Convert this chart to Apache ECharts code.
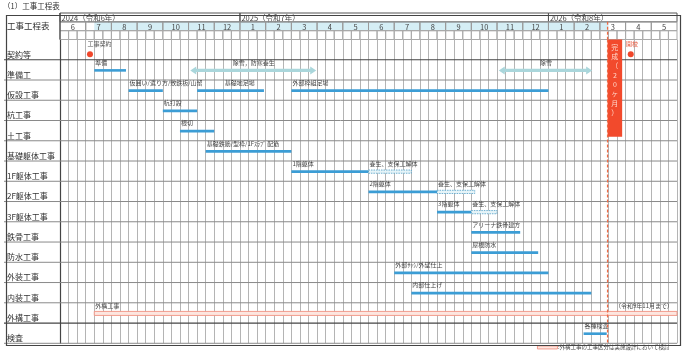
<!DOCTYPE html>
<html>
<head>
<meta charset="utf-8">
<script src="https://cdn.jsdelivr.net/npm/echarts@6/dist/echarts.min.js"></script>
<style>
  html, body { margin: 0; padding: 0; background: #fff; }
  #chart { width: 684px; height: 355px; }
</style>
</head>
<body>
<div id="chart"></div>
<script>
const FONT = '"Noto Sans CJK JP", sans-serif'

// 行（工種）
const rows = ['契約等', '準備工', '仮設工事', '杭工事', '土工事', '基礎躯体工事', '1F躯体工事', '2F躯体工事',
  '3F躯体工事', '鉄骨工事', '防水工事', '外装工事', '内装工事', '外構工事', '検査']

// 時間軸は旬（1か月=3）単位、0 = 2024年6月上旬
const months = ['6', '7', '8', '9', '10', '11', '12', '1', '2', '3', '4', '5', '6', '7', '8', '9', '10', '11', '12',
  '1', '2', '3', '4', '5']
const yearLabels = ['2024（令和6年）', '2025（令和7年）', '2026（令和8年）']
const yearFrom = [0, 7, 19]
const yearTo = [7, 19, 24]
const shadeFrom = 4
const shadeTo = 64

// 工程
const taskNames = ['準備', '除雪，防寒養生', '除雪', '仮囲い/遣り方/敷鉄板/山留', '基礎地足場', '外部枠組足場',
  '杭打設', '根切', '基礎鉄筋/型枠/1Fｽﾗﾌﾞ 配筋', '1階躯体', '養生、支保工解体', '2階躯体', '養生、支保工解体',
  '3階躯体', '養生、支保工解体', 'アリーナ鉄骨建方', '屋根防水', '外部ｻｯｼ/外壁仕上', '内部仕上げ', '外構工事', '各種検査']
const taskRow = [1, 1, 1, 2, 2, 2, 3, 4, 5, 6, 6, 7, 7, 8, 8, 9, 10, 11, 12, 13, 14]
const taskStart = [4, 15.2, 51.2, 8, 16, 27, 12, 14, 17, 27, 36, 36, 44, 44, 48, 48, 48, 39, 41, 4, 61.1]
const taskEnd = [7.7, 29.9, 62.1, 12, 23.8, 57, 16, 18, 27, 36, 41, 44, 48.4, 48, 51, 53.7, 55.8, 57, 62, 72, 63.8]
const taskLabelAt = [4, 22.6, 56.7, 8, 19.1, 27, 12, 14, 17, 27, 36, 36, 44, 44, 48, 48, 48, 39, 41, 4, 61.1]
const taskType = ['bar', 'arrow', 'arrow', 'bar', 'bar', 'bar', 'bar', 'bar', 'bar', 'bar', 'dash', 'bar', 'dash',
  'bar', 'dash', 'bar', 'bar', 'bar', 'bar', 'outline', 'bar']

// マイルストーン
const msNames = ['工事契約', '開校']
const msRow = [0, 0]
const msAt = [3.5, 66.6]
const msLabelAt = [3.2, 66.05]
const msLabelColor = ['#555', '#e8553a']

// 完成
const completionText = '完成（20ヶ月）'
const completionStart = 63.9
const completionEnd = 65.6
const completionRows = 4.8
const deadline = 63.9

const noteText = '（令和9年11月まで）'

const chart = echarts.init(document.getElementById('chart'))

function rowH(api) {
  return api.size([0, 1])[1]
}

function renderTask(params, api) {
  const i = params.dataIndex
  const a = api.coord([api.value(0), api.value(1)])
  const b = api.coord([api.value(2), api.value(1)])
  const y = a[1] + 0.5
  const type = taskType[i]
  const lx = api.coord([taskLabelAt[i], api.value(1)])[0]
  let mark
  if (type === 'bar') {
    mark = { type: 'rect', shape: { x: a[0], y: y - 1.3, width: b[0] - a[0], height: 2.6 }, style: { fill: '#3c9dd5' } }
  } else if (type === 'dash') {
    mark = { type: 'rect', shape: { x: a[0], y: y - 1.6, width: b[0] - a[0], height: 3.2 },
      style: { fill: '#e6f4f8', stroke: '#4d9dc6', lineWidth: 0.8, lineDash: [1.5, 1] } }
  } else if (type === 'outline') {
    mark = { type: 'rect', shape: { x: a[0], y: y - 2, width: b[0] - a[0], height: 4 },
      style: { fill: '#fde6e0', stroke: '#f09282', lineWidth: 0.9 } }
  } else {
    const hl = 6, hw = 4, sw = 1.6, x0 = a[0], x1 = b[0]
    mark = { type: 'polygon', shape: { points: [[x0, y], [x0 + hl, y - hw], [x0 + hl, y - sw], [x1 - hl, y - sw],
      [x1 - hl, y - hw], [x1, y], [x1 - hl, y + hw], [x1 - hl, y + sw], [x0 + hl, y + sw], [x0 + hl, y + hw]] },
      style: { fill: '#aad6db' } }
  }
  const label = { type: 'text', style: { x: lx + (type === 'arrow' ? 0 : 1), y: y - 8, text: taskNames[i],
    fill: '#444', font: '6px ' + FONT, align: type === 'arrow' ? 'center' : 'left', verticalAlign: 'middle' } }
  return { type: 'group', children: [mark, label] }
}

chart.setOption({
  animation: false,
  backgroundColor: '#fff',
  grid: [
    { left: 60, right: 7, top: 39.5, bottom: 11.7 },
    { left: 60, right: 7, top: 13, height: 26.5 }
  ],
  xAxis: [
    {
      type: 'value', min: 0, max: 72, interval: 1, gridIndex: 0,
      axisLine: { show: false }, axisTick: { show: false }, axisLabel: { show: false },
      splitLine: { show: true, lineStyle: { color: '#b4b4b4', width: 1 } }
    },
    {
      type: 'value', min: 0, max: 72, interval: 1, gridIndex: 1,
      axisLine: { show: false }, axisTick: { show: false }, axisLabel: { show: false }, splitLine: { show: false }
    }
  ],
  yAxis: [
    {
      type: 'category', data: rows, inverse: true, gridIndex: 0,
      axisLine: { show: true, lineStyle: { color: '#444', width: 1.2 } },
      axisTick: { show: false },
      splitLine: { show: false },
      axisLabel: { align: 'left', margin: 53, verticalAlign: 'top', padding: [1, 0, 0, 0],
        fontSize: 8, color: '#333', fontFamily: FONT }
    },
    {
      type: 'value', min: 0, max: 3, inverse: true, gridIndex: 1,
      axisLine: { show: false }, axisTick: { show: false }, axisLabel: { show: false }, splitLine: { show: false }
    }
  ],
  graphic: [
    { type: 'text', left: 3, top: 2, style: { text: '（1）工事工程表', fill: '#333', font: '7.5px ' + FONT } },
    { type: 'rect', left: 4, top: 13, shape: { width: 674, height: 330 }, style: { fill: 'none', stroke: '#444', lineWidth: 1.2 }, z: 20 },
    { type: 'line', shape: { x1: 60, y1: 13, x2: 60, y2: 39.5 }, style: { stroke: '#444', lineWidth: 1.2 }, z: 20 },
    { type: 'text', left: 7, top: 22, style: { text: '工事工程表', fill: '#333', font: '8.5px ' + FONT } },
    { type: 'rect', left: 537, top: 345.5, shape: { width: 20, height: 3 }, style: { fill: '#fde6e0', stroke: '#f09282', lineWidth: 0.9 } },
    { type: 'text', left: 558, top: 344, style: { text: ':外構工事の工事区分は実施設計において検討', fill: '#444', font: '5.5px ' + FONT } }
  ],
  series: [
    // 見出し：網掛け
    {
      type: 'custom', xAxisIndex: 1, yAxisIndex: 1, silent: true,
      data: [[shadeFrom, 1, shadeTo]],
      renderItem: (params, api) => {
        const a = api.coord([api.value(0), 1])
        const b = api.coord([api.value(2), 2])
        return { type: 'rect', shape: { x: a[0], y: a[1], width: b[0] - a[0], height: b[1] - a[1] }, style: { fill: '#d5eef5' } }
      }
    },
    // 見出し：年
    {
      type: 'custom', xAxisIndex: 1, yAxisIndex: 1, silent: true,
      data: yearLabels.map((t, i) => [yearFrom[i] * 3, 0, yearTo[i] * 3]),
      renderItem: (params, api) => {
        const a = api.coord([api.value(0), 0])
        const b = api.coord([api.value(2), 1])
        return { type: 'group', children: [
          { type: 'rect', shape: { x: a[0], y: a[1], width: b[0] - a[0], height: b[1] - a[1] }, style: { fill: 'none', stroke: '#555', lineWidth: 1 } },
          { type: 'text', style: { x: a[0] + 1.5, y: (a[1] + b[1]) / 2 + 1, text: yearLabels[params.dataIndex], fill: '#444', font: '7.5px ' + FONT, verticalAlign: 'middle' } }
        ] }
      }
    },
    // 見出し：月
    {
      type: 'custom', xAxisIndex: 1, yAxisIndex: 1, silent: true,
      data: months.map((m, i) => [i * 3, 1, i * 3 + 3]),
      renderItem: (params, api) => {
        const a = api.coord([api.value(0), 1])
        const b = api.coord([api.value(2), 2])
        return { type: 'group', children: [
          { type: 'rect', shape: { x: a[0], y: a[1], width: b[0] - a[0], height: b[1] - a[1] }, style: { fill: 'none', stroke: '#999', lineWidth: 1 } },
          { type: 'text', style: { x: (a[0] + b[0]) / 2, y: (a[1] + b[1]) / 2 + 0.5, text: months[params.dataIndex], fill: '#444', font: '7.5px ' + FONT, align: 'center', verticalAlign: 'middle' } }
        ] }
      }
    },
    // 見出し：旬
    {
      type: 'custom', xAxisIndex: 1, yAxisIndex: 1, silent: true,
      data: Array.from({ length: 72 }, (v, i) => [i, 2, i + 1]),
      renderItem: (params, api) => {
        const a = api.coord([api.value(0), 2])
        const b = api.coord([api.value(2), 3])
        return { type: 'rect', shape: { x: a[0], y: a[1], width: b[0] - a[0], height: b[1] - a[1] }, style: { fill: 'none', stroke: '#aaa', lineWidth: 1 } }
      }
    },
    // 見出し：完成線
    {
      type: 'custom', xAxisIndex: 1, yAxisIndex: 1, silent: true, z: 10,
      data: [[deadline, 1]],
      renderItem: (params, api) => {
        const a = api.coord([api.value(0), 1])
        const b = api.coord([api.value(0), 3])
        return { type: 'line', shape: { x1: a[0], y1: a[1], x2: b[0], y2: b[1] }, style: { stroke: '#ee6a45', lineWidth: 1.3, lineDash: [3, 2] } }
      }
    },
    // 行の罫線
    {
      type: 'custom', silent: true,
      data: rows.map((r, i) => [0, i]),
      renderItem: (params, api) => {
        const i = params.dataIndex
        const c = api.coord([0, i])
        const e = api.coord([72, i])
        const y = c[1] + rowH(api) / 2
        const dark = i === 0 || i === 13
        return { type: 'line', shape: { x1: 4, y1: y, x2: e[0], y2: y }, style: { stroke: dark ? '#444' : '#8a8a8a', lineWidth: dark ? 1.2 : 1 } }
      }
    },
    // 工程バー
    {
      type: 'custom', silent: true, z: 5,
      data: taskNames.map((t, i) => [taskStart[i], taskRow[i], taskEnd[i]]),
      renderItem: renderTask
    },
    // マイルストーン
    {
      type: 'custom', silent: true, z: 5,
      data: msNames.map((t, i) => [msAt[i], msRow[i]]),
      renderItem: (params, api) => {
        const i = params.dataIndex
        const c = api.coord([api.value(0), api.value(1)])
        const lx = api.coord([msLabelAt[i], api.value(1)])[0]
        return { type: 'group', children: [
          { type: 'circle', shape: { cx: c[0], cy: c[1] + 4.5, r: 3 }, style: { fill: '#f0462a' } },
          { type: 'text', style: { x: lx, y: c[1] - 6, text: msNames[i], fill: msLabelColor[i], font: '6px ' + FONT, verticalAlign: 'middle' } }
        ] }
      }
    },
    // 注記
    {
      type: 'custom', silent: true, z: 5,
      data: [[72, 13]],
      renderItem: (params, api) => {
        const c = api.coord([api.value(0), api.value(1)])
        return { type: 'text', style: { x: c[0] - 4, y: c[1] - 7.5, text: noteText, fill: '#444', font: '6px ' + FONT, align: 'right', verticalAlign: 'middle' } }
      }
    },
    // 完成
    {
      type: 'custom', silent: true, z: 6,
      data: [[completionStart, 0, completionEnd]],
      renderItem: (params, api) => {
        const a = api.coord([api.value(0), 0])
        const b = api.coord([api.value(2), 0])
        const h = rowH(api)
        const top = a[1] - h / 2
        return { type: 'group', children: [
          { type: 'rect', shape: { x: a[0], y: top, width: b[0] - a[0], height: completionRows * h }, style: { fill: '#f24a2c' } },
          { type: 'text', style: { x: (a[0] + b[0]) / 2, y: top + 3, text: completionText.split('').join('\n'),
            fill: '#ffd6c8', font: '7px ' + FONT, lineHeight: 9.3, align: 'center', verticalAlign: 'top' } }
        ] }
      }
    },
    // 完成線
    {
      type: 'custom', silent: true, z: 7,
      data: [[deadline, 0]],
      renderItem: (params, api) => {
        const h = rowH(api)
        const a = api.coord([api.value(0), 0])
        const b = api.coord([api.value(0), rows.length - 1])
        return { type: 'line', shape: { x1: a[0], y1: a[1] - h / 2, x2: b[0], y2: b[1] + h / 2 }, style: { stroke: '#ee6a45', lineWidth: 1.3, lineDash: [3, 2] } }
      }
    }
  ]
})
</script>
</body>
</html>
